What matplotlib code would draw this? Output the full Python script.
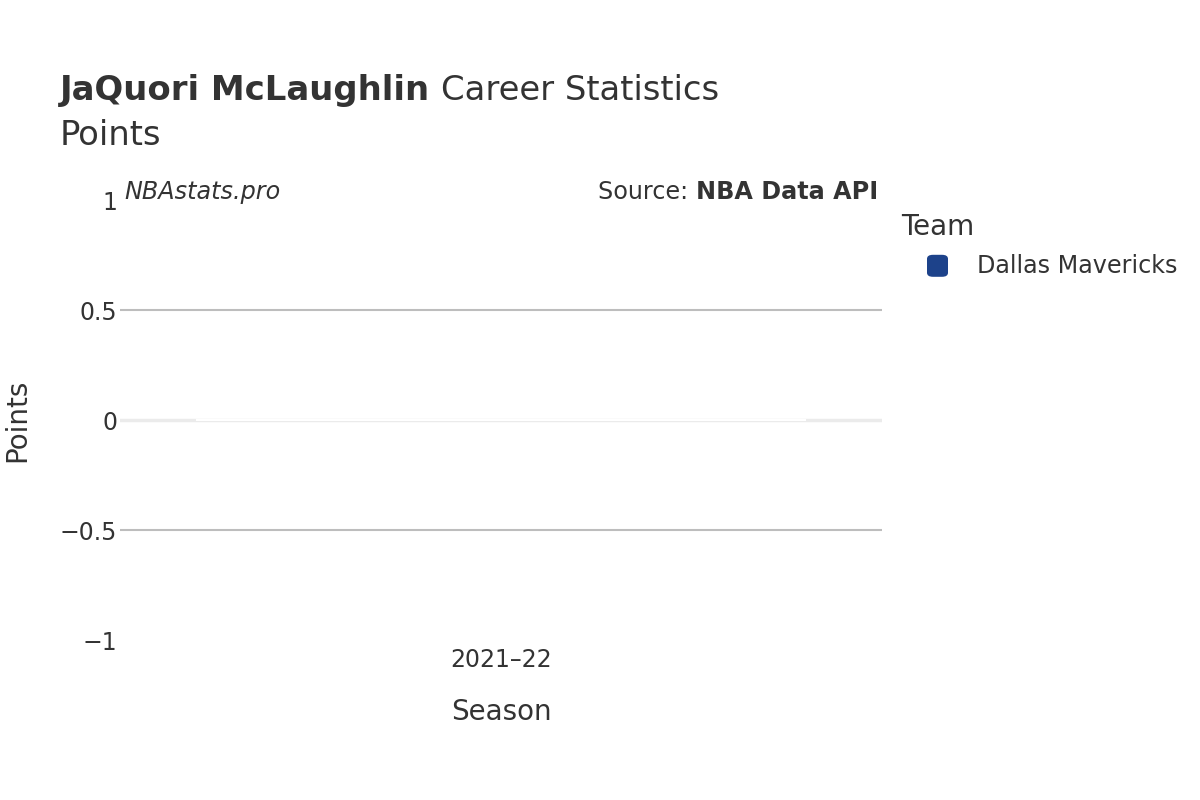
import matplotlib
matplotlib.use('Agg')
import matplotlib.pyplot as plt
from matplotlib.patches import FancyBboxPatch

# Data
seasons=['2021–22']
teams=['Dallas Mavericks']
points=[0]
team_colors=['#1d428a']

yticks=[-1,-0.5,0,0.5,1]
yticklabels=['\u22121','\u22120.5','0','0.5','1']

txtclr='#333333'
plt.rcParams['font.family']=['DejaVu Sans']

fig=plt.figure(figsize=(12,8),dpi=100)
ax=fig.add_axes([0.1,0.2,0.635,0.55])

xpos=list(range(len(seasons)))
ax.bar(xpos,points,width=0.8,color=team_colors[0],edgecolor='white',linewidth=1.5,zorder=3)
ax.set_xlim(-0.5,len(seasons)-0.5)
ax.set_ylim(-1,1)
ax.set_xticks(xpos)
ax.set_xticklabels(seasons)
ax.set_yticks(yticks)
ax.set_yticklabels(yticklabels)
for y in [0.5,-0.5]:
    ax.axhline(y,color='#bdbdbd',lw=1.5,zorder=1)
ax.axhline(0,color='#ebebeb',lw=2.5,zorder=2)
for s in ax.spines.values():
    s.set_visible(False)
ax.tick_params(axis='both',length=0,labelsize=17,labelcolor=txtclr)
ax.tick_params(axis='x',pad=6)
ax.tick_params(axis='y',pad=2)

# axis titles
fig.text(0.4175,0.11,'Season',fontsize=20,color=txtclr,ha='center',va='center')
fig.text(0.014,0.475,'Points',fontsize=20,color=txtclr,ha='center',va='center',rotation=90)

# Titles
renderer=fig.canvas.get_renderer()
t1=fig.text(0.05,0.875,'JaQuori McLaughlin',fontsize=24.4,fontweight='bold',color=txtclr,va='baseline')
bb=t1.get_window_extent(renderer=renderer).transformed(fig.transFigure.inverted())
fig.text(bb.x1+0.009,0.875,'Career Statistics',fontsize=24.4,color=txtclr,va='baseline')
fig.text(0.05,0.819,'Points',fontsize=24.4,color=txtclr,va='baseline')

# Annotations
fig.text(0.104,0.76,'NBAstats.pro',fontsize=17.2,style='italic',color=txtclr,va='center')
t2=fig.text(0.7315,0.76,'NBA Data API',fontsize=17.2,fontweight='bold',color=txtclr,va='center',ha='right')
bb2=t2.get_window_extent(renderer=renderer).transformed(fig.transFigure.inverted())
fig.text(bb2.x0,0.76,'Source: ',fontsize=17.2,color=txtclr,va='center',ha='right')

# Legend
fig.text(0.751,0.716,'Team',fontsize=20,color=txtclr,va='center')
fig.patches.append(FancyBboxPatch((0.7725,0.654),0.0175,0.0275,boxstyle='round,pad=0,rounding_size=0.005',
                                  transform=fig.transFigure,facecolor=team_colors[0],edgecolor='none'))
fig.text(0.8145,0.667,teams[0],fontsize=17.2,color=txtclr,va='center')

fig.savefig('out.png',dpi=100,facecolor='white')
